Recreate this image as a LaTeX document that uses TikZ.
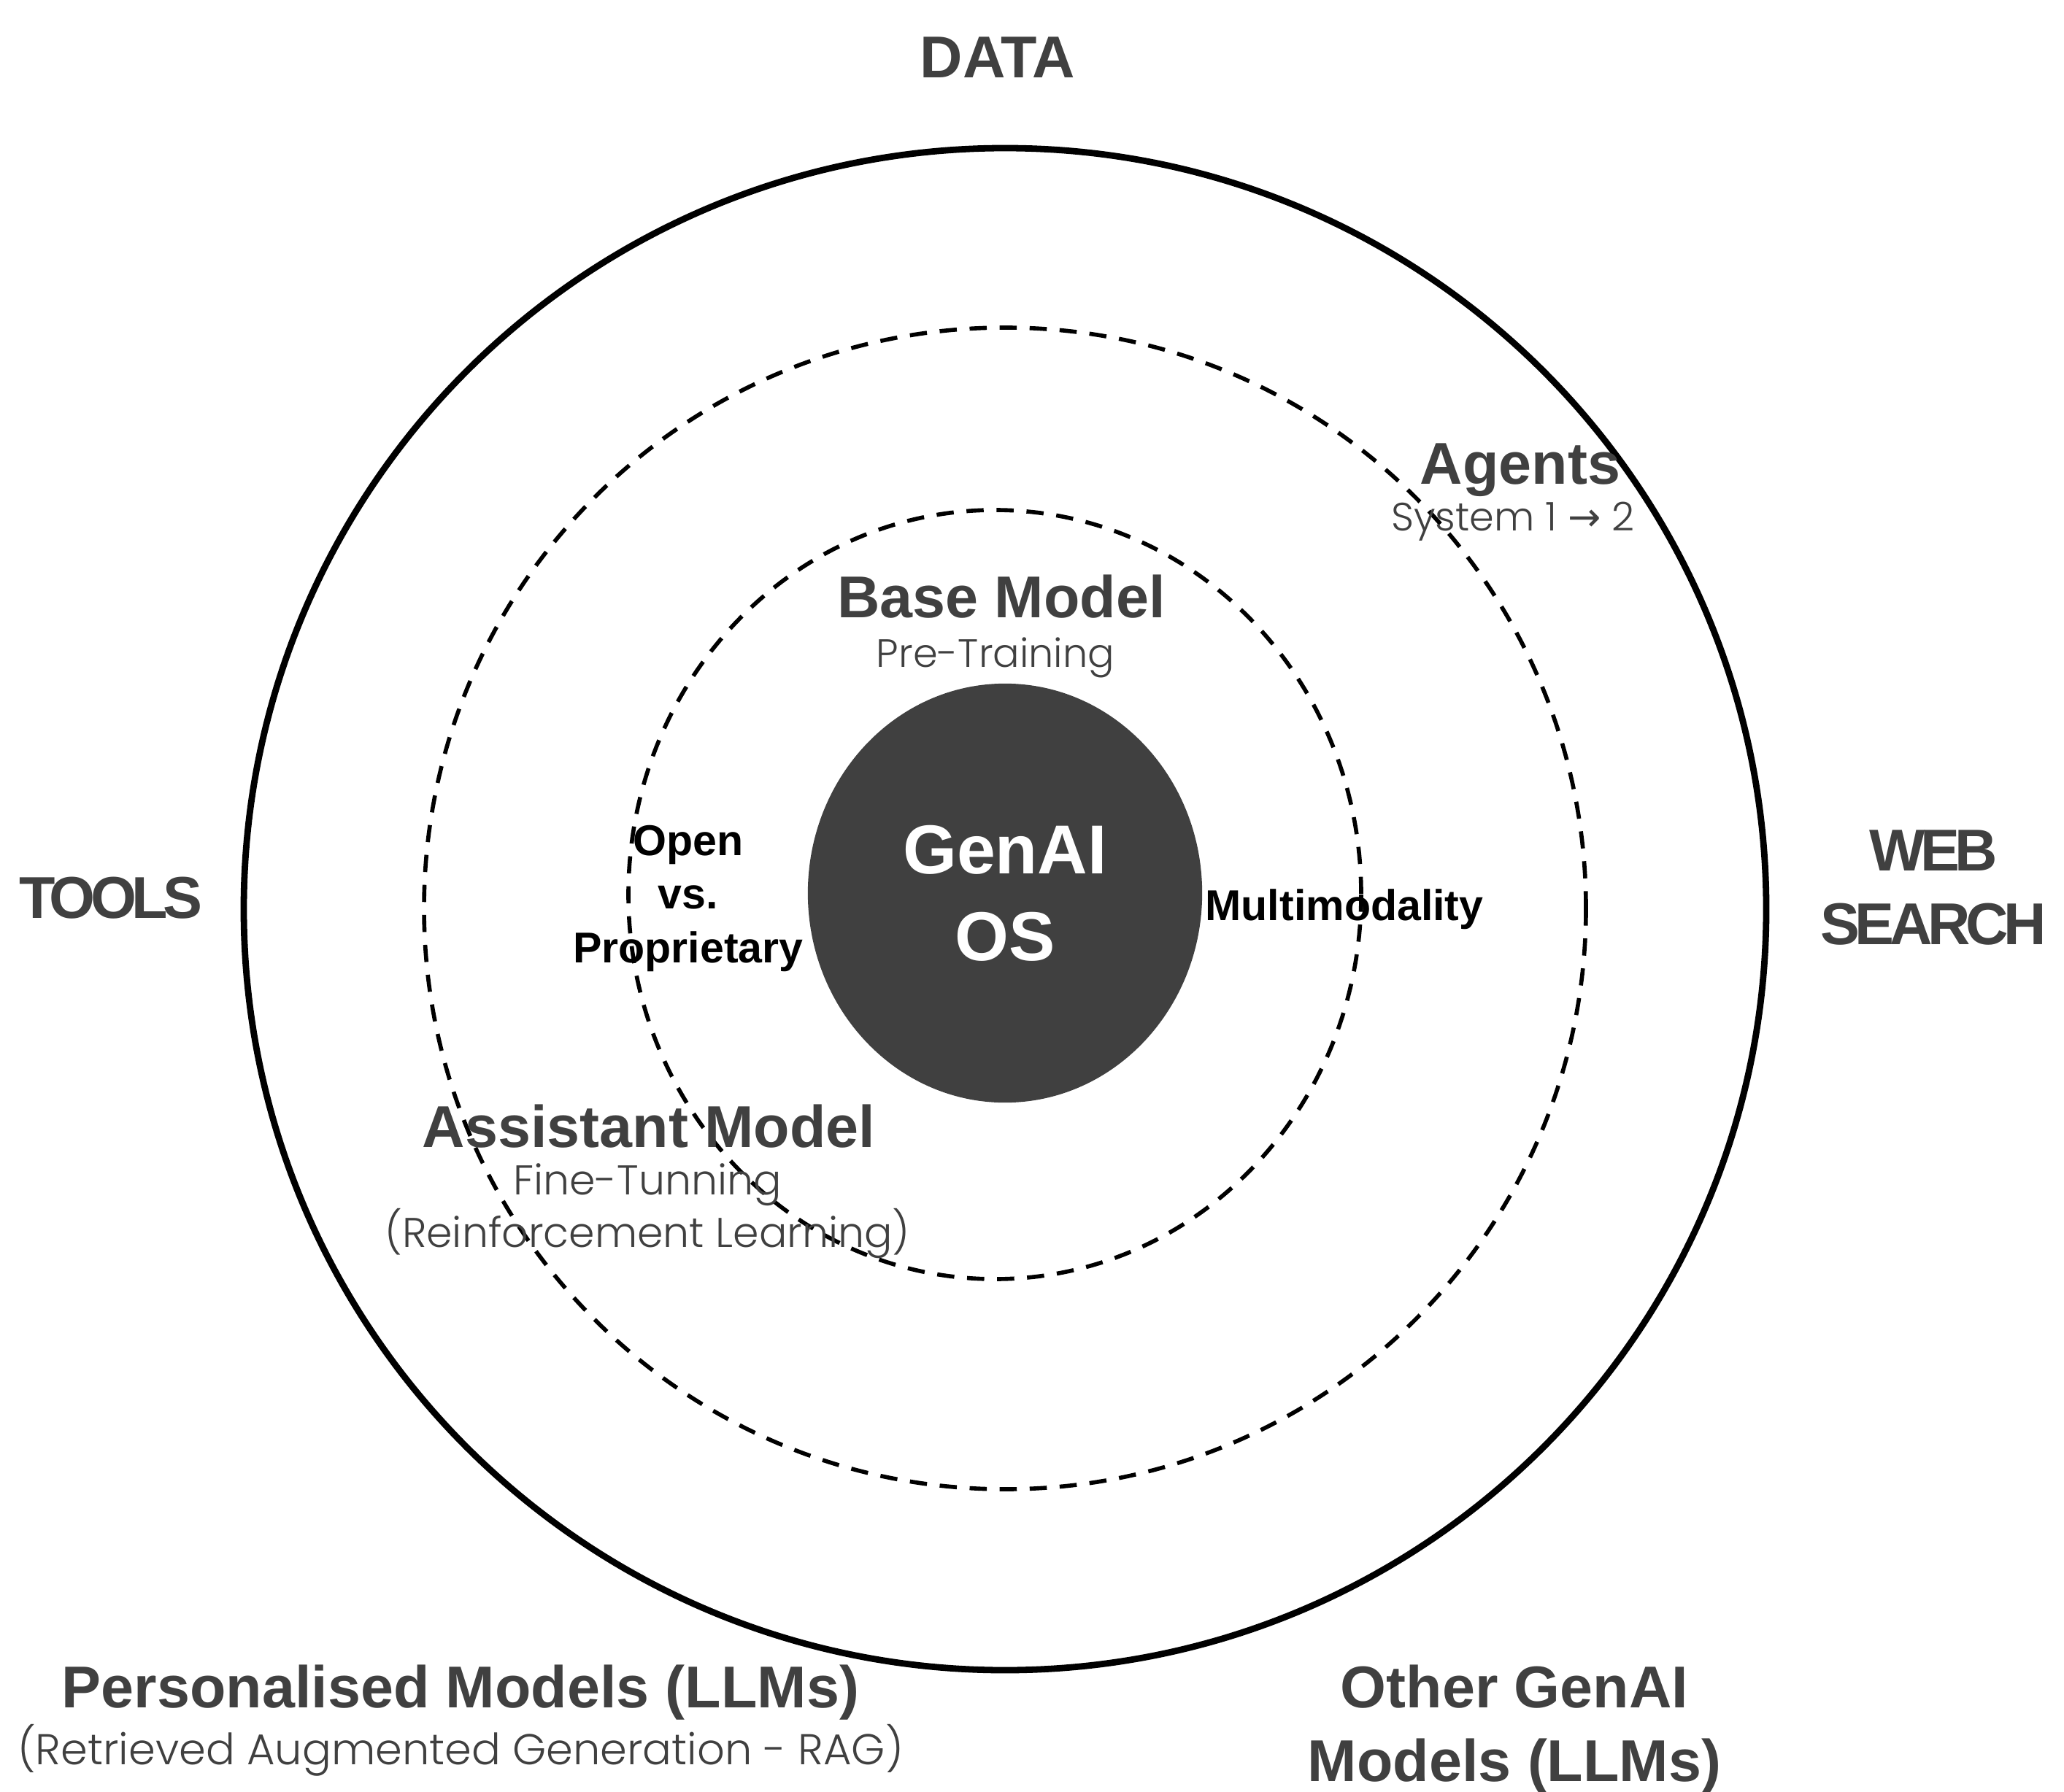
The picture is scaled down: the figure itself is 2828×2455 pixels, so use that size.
\documentclass[tikz,border=0pt]{standalone}
\usepackage{fontspec}
\usepackage{xcolor}
\usepackage{tikz}
\usetikzlibrary{shapes.geometric}

\setmainfont{Liberation Sans}
\newfontfamily\thinfont{Poppins Light}
\newfontfamily\tightfont{Liberation Sans}[LetterSpace=-8]
\newfontfamily\arrowfont{DejaVu Sans}
\definecolor{darkgrey}{HTML}{404040}

\tikzset{
    ring/.style={line width=2.5pt},
    dashring/.style={line width=1.6pt, dash pattern=on 6.7pt off 5pt},
    biglabel/.style={font=\fontsize{23}{28.7}\selectfont\bfseries, text=darkgrey, inner sep=0pt, align=center},
    tightlabel/.style={biglabel, font=\tightfont\fontsize{23}{28.7}\selectfont\bfseries},
    sublabel/.style={font=\thinfont\fontsize{15.4}{20.5}\selectfont, text=darkgrey, inner sep=0pt, align=center},
    smalllabel/.style={font=\fontsize{16.8}{20.9}\selectfont\bfseries, inner sep=0pt, align=center}
}

\begin{document}
\begin{tikzpicture}[x=0.01cm, y=-0.01cm]
    \useasboundingbox (0,0) rectangle (2828,2455);

    % Rings
    \draw[ring] (1377,1246) circle [radius=1043];
    \draw[dashring] (1377,1245) circle [radius=796];
    \draw[dashring] (1363,1226) ellipse [x radius=502, y radius=527];

    % Core
    \node[ellipse, fill=darkgrey, minimum width=5.4cm, minimum height=5.74cm, inner sep=0pt, text=white, align=center, font=\fontsize{27}{33.9}\selectfont\bfseries] (core) at (1377,1224) {GenAI\\OS};

    % Outside the rings
    \node[biglabel, anchor=base] (data) at (1367,107) {DATA};
    \node[tightlabel, anchor=base] (tools) at (152,1258) {TOOLS};
    \node[tightlabel] (websearch) at (2649,1217) {WEB\\SEARCH};
    \node[biglabel, anchor=base] (personal) at (631,2340) {Personalised Models (LLMs)};
    \node[sublabel, anchor=base, font=\thinfont\fontsize{16.8}{20.5}\selectfont] (personalsub) at (631,2418) {(Retrieved Augmented Generation - RAG)};
    \node[biglabel] (other) at (2075,2370) {Other GenAI\\Models (LLMs)};

    % Middle ring
    \node[biglabel, anchor=base] (agents) at (2083,663) {Agents};
    \node[sublabel, anchor=base] (agentsub) at (2073,727) {System 1 {\arrowfont →} 2};
    \node[biglabel, anchor=base] (assistant) at (889,1572) {Assistant Model};
    \node[sublabel, font=\thinfont\fontsize{16.2}{20.5}\selectfont] (assistantsub) at (887,1660) {Fine-Tunning\\(Reinforcement Learning)};

    % Inner ring
    \node[biglabel, anchor=base] (base) at (1372,846) {Base Model};
    \node[sublabel, anchor=base] (basesub) at (1364,914) {Pre-Training};
    \node[smalllabel] (open) at (943,1231) {Open\\vs.\\Proprietary};
    \node[smalllabel, anchor=base] (multi) at (1842,1261) {Multimodality};
\end{tikzpicture}
\end{document}
